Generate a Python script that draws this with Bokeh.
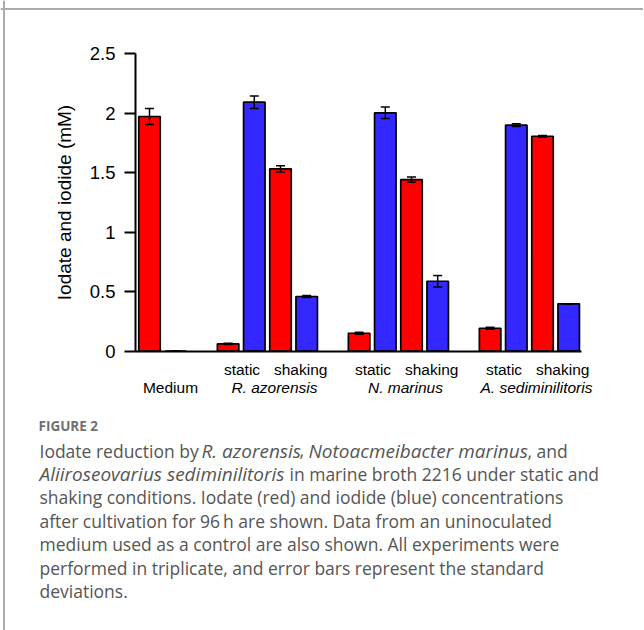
from bokeh.plotting import figure
from bokeh.models import (Range1d, LinearAxis, FixedTicker, ColumnDataSource,
                          Whisker, TeeHead, Span, CustomJSTickFormatter)
from bokeh.core.properties import value
from bokeh.embed import file_html
from bokeh.resources import INLINE

# ---------------- data ----------------
groups = ["Medium", "R. azorensis", "N. marinus", "A. sediminilitoris"]
conditions = ["static", "shaking"]
samples = ["Medium",
           "R. azorensis static", "R. azorensis shaking",
           "N. marinus static", "N. marinus shaking",
           "A. sediminilitoris static", "A. sediminilitoris shaking"]
iodate = [1.973, 0.062, 1.533, 0.151, 1.443, 0.193, 1.807]
iodate_sd = [0.068, 0.005, 0.026, 0.008, 0.022, 0.008, 0.006]
iodide = [0.0, 2.093, 0.460, 2.004, 0.588, 1.900, 0.398]
iodide_sd = [0.0, 0.052, 0.008, 0.048, 0.048, 0.012, 0.0]
y_ticks = [0, 0.5, 1, 1.5, 2, 2.5]
y_tick_labels = ["0", "0.5", "1", "1.5", "2", "2.5"]
y_label = "Iodate and iodide (mM)"

caption_title = "FIGURE 2"
caption_lines = [
    [("Iodate reduction by ", "normal", 40), ("R. azorensis", "italic", 202),
     (",", "normal", 300), ("Notoacmeibacter marinus", "italic", 309),
     (", and", "normal", 528)],
    [("Aliiroseovarius sediminilitoris", "italic", 40),
     ("in marine broth 2216 under static and", "normal", 290)],
    [("shaking conditions. Iodate (red) and iodide (blue) concentrations", "normal", 40)],
    [("after cultivation for 96\u2009h are shown. Data from an uninoculated", "normal", 40)],
    [("medium used as a control are also shown. All experiments were", "normal", 40)],
    [("performed in triplicate, and error bars represent the standard", "normal", 40)],
    [("deviations.", "normal", 40)],
]

# ---------------- layout helpers (page pixel -> data) ----------------
X0_PX, SLOT_PX = 150.0, 26.2      # centre of first bar, bar pitch
Y0_PX, UNIT_PX = 350.7, 118.96    # baseline, pixels per mM
W, H = 643, 630
LEFT_PX, TOP_PX = 1, 0            # where the canvas lands on the page
TEXT_DY = -6.5                    # text baseline correction


def xd(px):
    return (px - X0_PX) / SLOT_PX


def yd(py):
    return (Y0_PX - py) / UNIT_PX


def yt(py):
    return yd(py + TEXT_DY)


RED = "#FF0000"
BLUE = "#3328FF"
AX_FONT = value("Liberation Sans")

p = figure(width=W, height=H, x_range=Range1d(xd(LEFT_PX), xd(LEFT_PX + W)),
           y_range=Range1d(yd(TOP_PX + H), yd(TOP_PX)),
           x_axis_location=None, y_axis_location=None,
           toolbar_location=None, output_backend="svg", title=None,
           min_border=0, outline_line_color=None)
p.grid.visible = False

# bar slots: Medium at 0/1, then groups of four after one-slot gaps
red_pos = [0] + [5 * g - 2 + 2 * c for g in range(1, len(groups)) for c in range(len(conditions))]
blue_pos = [r + 1 for r in red_pos]
BW = 0.82

src_red = ColumnDataSource(dict(x=red_pos, top=iodate,
                                upper=[v + s for v, s in zip(iodate, iodate_sd)],
                                lower=[v - s for v, s in zip(iodate, iodate_sd)]))
src_blue = ColumnDataSource(dict(x=blue_pos, top=iodide,
                                 upper=[v + s for v, s in zip(iodide, iodide_sd)],
                                 lower=[v - s for v, s in zip(iodide, iodide_sd)]))

p.vbar(x="x", top="top", bottom=0, width=BW, source=src_red, fill_color=RED,
       line_color="black", line_width=1.7)
p.vbar(x="x", top="top", bottom=0, width=BW, source=src_blue, fill_color=BLUE,
       line_color="black", line_width=1.7)

for s in (src_red, src_blue):
    w = Whisker(base="x", upper="upper", lower="lower", source=s,
                line_color="black", line_width=1.5, level="annotation",
                upper_head=TeeHead(size=9, line_width=1.5, line_color="black"),
                lower_head=TeeHead(size=9, line_width=1.5, line_color="black"))
    p.add_layout(w)

# axes
yaxis = LinearAxis(fixed_location=xd(136), bounds=(0, 2.5),
                   ticker=FixedTicker(ticks=y_ticks),
                   formatter=CustomJSTickFormatter(
                       args=dict(yt=y_ticks, yl=y_tick_labels),
                       code="const i = yt.indexOf(tick); return i >= 0 ? yl[i] : ''"),
                   axis_label=y_label)
yaxis.axis_line_width = 2
yaxis.major_tick_line_width = 2
yaxis.major_tick_in = 0
yaxis.major_tick_out = 11
yaxis.minor_tick_line_color = None
yaxis.major_label_standoff = 9
yaxis.major_label_text_font = "Liberation Sans"
yaxis.major_label_text_font_size = "18.5px"
yaxis.major_label_text_color = "black"
yaxis.axis_label_text_font = "Liberation Sans"
yaxis.axis_label_text_font_size = "19px"
yaxis.axis_label_text_font_style = "normal"
yaxis.axis_label_text_color = "black"
yaxis.axis_label_standoff = 12
p.add_layout(yaxis, "left")

xaxis = LinearAxis(fixed_location=0, bounds=(xd(136), xd(582)),
                   ticker=FixedTicker(ticks=[]))
xaxis.axis_line_width = 2
xaxis.major_tick_line_color = None
xaxis.minor_tick_line_color = None
xaxis.major_label_text_font_size = "0px"
p.add_layout(xaxis, "below")

# category labels
cond_x, cond_t = [], []
grp_x, grp_t, grp_style = [xd(171)], [groups[0]], ["normal"]
for g in range(1, len(groups)):
    first = 5 * g - 2
    cond_x += [first + 0.53, first + 2.77]
    cond_t += conditions
    grp_x.append(first + 1.77)
    grp_t.append(groups[g])
    grp_style.append("italic")

p.text(x=cond_x, y=[yt(375)] * len(cond_x), text=cond_t, text_font=AX_FONT,
       text_font_size="15.5px", text_align="center", text_baseline="alphabetic",
       text_color="black")
p.text(x=grp_x, y=[yt(393.3)] * len(grp_x), text=grp_t, text_font=AX_FONT,
       text_font_size="15.5px", text_font_style=grp_style, text_align="center",
       text_baseline="alphabetic", text_color="black")

# caption
p.text(x=[xd(39)], y=[yt(431.7)], text=[caption_title], text_font=value("Open Sans"),
       text_font_size="13.5px", text_font_style="bold", text_color="#707070",
       text_baseline="alphabetic", text_align="left")
cx, cy, ct, cs, cf = [], [], [], [], []
for i, line in enumerate(caption_lines):
    for txt, style, px in line:
        cx.append(xd(px))
        cy.append(yt(456.5 + 23.4 * i))
        ct.append(txt)
        cs.append(style)
        cf.append("19px" if style == "italic" else "17.5px")
p.text(x=cx, y=cy, text=ct, text_font=value("Open Sans"), text_font_size=cf,
       text_font_style=cs, text_color="#555555", text_baseline="alphabetic",
       text_align="left")

# card border (top and left edges)
p.add_layout(Span(location=yd(8.5), dimension="width", line_color="#aaaaaa", line_width=2))
p.add_layout(Span(location=xd(4.5), dimension="height", line_color="#aaaaaa", line_width=2))

open("out.html", "w").write(file_html(p, INLINE))
